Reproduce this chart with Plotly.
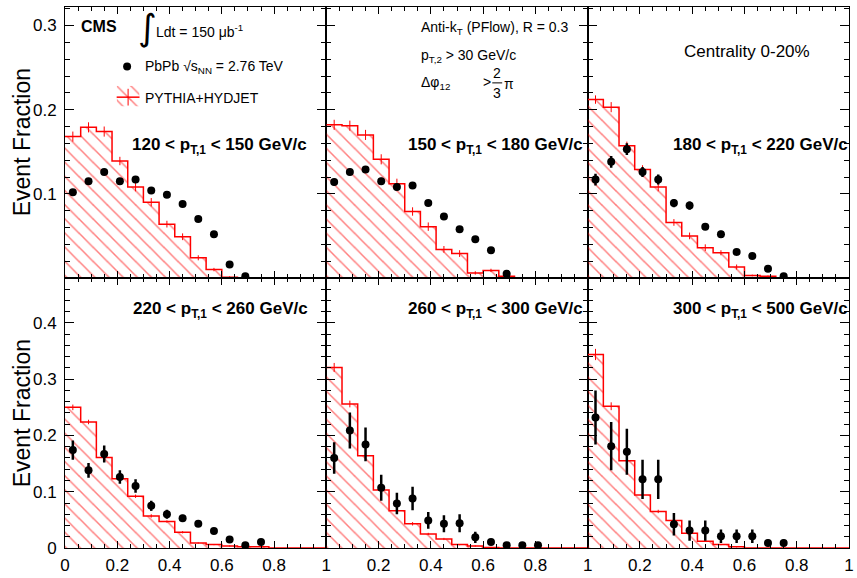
import numpy as np
import plotly.graph_objects as go

# ---------------- data ----------------
BIN_W = 0.06
AJ_EDGES = np.round(np.arange(18) * BIN_W, 4)          # 0 ... 1.02
AJ_CENTERS = np.round((AJ_EDGES[:-1] + AJ_EDGES[1:]) / 2, 4)

PT_LABELS = [
    "120 < p<sub>T,1</sub> < 150 GeV/c",
    "150 < p<sub>T,1</sub> < 180 GeV/c",
    "180 < p<sub>T,1</sub> < 220 GeV/c",
    "220 < p<sub>T,1</sub> < 260 GeV/c",
    "260 < p<sub>T,1</sub> < 300 GeV/c",
    "300 < p<sub>T,1</sub> < 500 GeV/c",
]

# PYTHIA+HYDJET histograms (17 bins)
MC_120_150 = [0.168, 0.179, 0.174, 0.139, 0.108, 0.090, 0.064, 0.049, 0.024, 0.010, 0.001, 0, 0, 0, 0, 0, 0]
MC_150_180 = [0.182, 0.181, 0.170, 0.141, 0.112, 0.079, 0.061, 0.034, 0.029, 0.006, 0.009, 0.002, 0, 0, 0, 0, 0]
MC_180_220 = [0.212, 0.203, 0.157, 0.129, 0.108, 0.066, 0.050, 0.036, 0.030, 0.013, 0.003, 0.002, 0, 0, 0, 0, 0]
MC_220_260 = [0.250, 0.224, 0.161, 0.123, 0.092, 0.057, 0.047, 0.028, 0.009, 0.006, 0.0035, 0.002, 0.002, 0, 0, 0, 0]
MC_260_300 = [0.321, 0.256, 0.164, 0.103, 0.066, 0.043, 0.025, 0.016, 0.006, 0.0035, 0.001, 0, 0, 0, 0, 0, 0]
MC_300_500 = [0.344, 0.252, 0.155, 0.094, 0.065, 0.049, 0.026, 0.012, 0.006, 0.002, 0, 0, 0, 0, 0, 0, 0]

MC_ERR_120_150 = [0.006, 0.006, 0.006, 0.005, 0.005, 0.005, 0.004, 0.004, 0.003, 0.002, 0.001]
MC_ERR_150_180 = [0.006, 0.006, 0.006, 0.006, 0.006, 0.005, 0.005, 0.004, 0.004, 0.002, 0.002, 0.001]
MC_ERR_180_220 = [0.005, 0.006, 0.005, 0.005, 0.005, 0.004, 0.004, 0.004, 0.003, 0.003, 0.001, 0.001]
MC_ERR_220_260 = [0.005, 0.004, 0.004, 0.003, 0.003, 0.003, 0.002, 0.002, 0.001, 0.001, 0.001, 0.001, 0.001]
MC_ERR_260_300 = [0.008, 0.006, 0.005, 0.004, 0.003, 0.003, 0.002, 0.002, 0.001, 0.001, 0.001]
MC_ERR_300_500 = [0.010, 0.007, 0.005, 0.004, 0.003, 0.003, 0.002, 0.001, 0.001, 0.001]

# PbPb data points
DATA_120_150 = [0.102, 0.115, 0.126, 0.115, 0.117, 0.104, 0.099, 0.088, 0.070, 0.052, 0.016, 0.002]
DATA_150_180 = [0.114, 0.126, 0.129, 0.115, 0.108, 0.110, 0.089, 0.073, 0.058, 0.046, 0.033, 0.005]
DATA_180_220 = [0.117, 0.138, 0.153, 0.126, 0.117, 0.089, 0.086, 0.061, 0.052, 0.031, 0.026, 0.011, 0.002]
DATA_220_260 = [0.174, 0.138, 0.167, 0.126, 0.110, 0.075, 0.060, 0.053, 0.043, 0.030, 0.015, 0.005, 0.0105]
DATA_260_300 = [0.160, 0.209, 0.184, 0.107, 0.079, 0.088, 0.049, 0.043, 0.044, 0.019, 0.0105, 0.005, 0.005, 0.005]
DATA_300_500 = [0.232, 0.181, 0.171, 0.122, 0.122, 0.042, 0.031, 0.031, 0.021, 0.021, 0.021, 0.009, 0.009]

ERR_120_150 = [0.003, 0.003, 0.003, 0.003, 0.003, 0.003, 0.003, 0.003, 0.002, 0.002, 0.001, 0.001]
ERR_150_180 = [0.004, 0.004, 0.004, 0.004, 0.004, 0.004, 0.003, 0.003, 0.003, 0.002, 0.002, 0.001]
ERR_180_220 = [0.007, 0.007, 0.007, 0.006, 0.006, 0.005, 0.005, 0.004, 0.004, 0.003, 0.003, 0.002, 0.001]
ERR_220_260 = [0.017, 0.013, 0.015, 0.012, 0.012, 0.009, 0.008, 0.006, 0.005, 0.004, 0.004, 0.002, 0.003]
ERR_260_300 = [0.028, 0.032, 0.030, 0.023, 0.019, 0.021, 0.015, 0.015, 0.016, 0.010, 0.005, 0.003, 0.003, 0.003]
ERR_300_500 = [0.048, 0.043, 0.041, 0.035, 0.035, 0.020, 0.018, 0.018, 0.012, 0.012, 0.012, 0.006, 0.006]

MC = [MC_120_150, MC_150_180, MC_180_220, MC_220_260, MC_260_300, MC_300_500]
MC_ERR = [MC_ERR_120_150, MC_ERR_150_180, MC_ERR_180_220, MC_ERR_220_260, MC_ERR_260_300, MC_ERR_300_500]
DATA = [DATA_120_150, DATA_150_180, DATA_180_220, DATA_220_260, DATA_260_300, DATA_300_500]
ERR = [ERR_120_150, ERR_150_180, ERR_180_220, ERR_220_260, ERR_260_300, ERR_300_500]

X_TICKS = [0, 0.2, 0.4, 0.6, 0.8, 1]
X_TICKTEXT_FIRST = ["0", "0.2", "0.4", "0.6", "0.8", "1"]
X_TICKTEXT_OTHER = ["", "0.2", "0.4", "0.6", "0.8", "1"]
Y_TICKS_TOP = [0.1, 0.2, 0.3]
Y_TICKS_BOT = [0, 0.1, 0.2, 0.3, 0.4]
Y_RANGE_TOP = [0, 0.322]
Y_RANGE_BOT = [0, 0.48]

# ---------------- layout geometry ----------------
W, H = 857, 578
ML, MR, MT, MB = 65, 3, 7, 22
PW = W - ML - MR
PH = H - MT - MB
ROW_SPLIT = 274 / PH

def px(x, y):
    return (x - ML) / PW, (H - MB - y) / PH

FONT = "Liberation Sans, Arial, Helvetica, sans-serif"
HATCH = dict(shape="\\", fgcolor="#ff0000", bgcolor="rgba(0,0,0,0)", size=10, solidity=0.15)

fig = go.Figure()

for i in range(6):
    r, c = divmod(i, 3)
    xa = "x" if i == 0 else f"x{i+1}"
    ya = "y" if i == 0 else f"y{i+1}"
    mc = MC[i]
    fig.add_trace(go.Scatter(
        x=list(AJ_EDGES), y=mc + [mc[-1]], mode="lines", line_shape="hv",
        line=dict(color="#ff0000", width=1.5), fill="tozeroy",
        fillcolor="rgba(0,0,0,0)", fillpattern=HATCH,
        xaxis=xa, yaxis=ya, showlegend=False, hoverinfo="skip"))
    ne = len(MC_ERR[i])
    fig.add_trace(go.Scatter(
        x=list(AJ_CENTERS[:ne]), y=mc[:ne], mode="markers",
        marker=dict(size=1, color="rgba(0,0,0,0)"),
        error_y=dict(type="data", array=MC_ERR[i], color="#ff0000", thickness=1, width=0),
        xaxis=xa, yaxis=ya, showlegend=False, hoverinfo="skip"))
    nd = len(DATA[i])
    fig.add_trace(go.Scatter(
        x=list(AJ_CENTERS[:nd]), y=DATA[i], mode="markers",
        marker=dict(size=8, color="black"),
        error_y=dict(type="data", array=ERR[i], color="black", thickness=2.5, width=0),
        xaxis=xa, yaxis=ya, showlegend=False))

    xkey = "xaxis" if i == 0 else f"xaxis{i+1}"
    ykey = "yaxis" if i == 0 else f"yaxis{i+1}"
    common = dict(showline=True, linecolor="black", linewidth=1, mirror="allticks",
                  ticks="inside", tickcolor="black", tickwidth=1, showgrid=False,
                  zeroline=False, tickfont=dict(family=FONT, size=17, color="black"))
    fig.layout[xkey] = dict(
        common, domain=[c / 3, (c + 1) / 3], range=[0, 1], anchor=ya,
        tickmode="array", tickvals=X_TICKS,
        ticktext=X_TICKTEXT_FIRST if c == 0 else X_TICKTEXT_OTHER,
        showticklabels=(r == 1), ticklen=7, ticklabelstandoff=2,
        minor=dict(tickmode="linear", tick0=0, dtick=0.05, ticks="inside",
                   ticklen=4, tickcolor="black", tickwidth=1))
    fig.layout[ykey] = dict(
        common, domain=[ROW_SPLIT, 1] if r == 0 else [0, ROW_SPLIT],
        range=Y_RANGE_TOP if r == 0 else Y_RANGE_BOT, anchor=xa,
        tickmode="array", tickvals=Y_TICKS_TOP if r == 0 else Y_TICKS_BOT,
        ticktext=[("%g" % v) for v in (Y_TICKS_TOP if r == 0 else Y_TICKS_BOT)],
        showticklabels=(c == 0), ticklen=9, ticklabelstandoff=4,
        minor=dict(tickmode="linear", tick0=0, dtick=0.02, ticks="inside",
                   ticklen=5, tickcolor="black", tickwidth=1))

# legend swatch axis (hatched key box)
sx0, sy0 = px(117, 108)
sx1, sy1 = px(140, 87)
fig.layout["xaxis7"] = dict(domain=[sx0, sx1], range=[0, 1], visible=False, anchor="y7")
fig.layout["yaxis7"] = dict(domain=[sy0, sy1], range=[0, 1], visible=False, anchor="x7")
fig.add_trace(go.Scatter(x=[0, 1, 1, 0, 0], y=[0, 0, 1, 1, 0], mode="lines", fill="toself",
                         fillcolor="rgba(0,0,0,0)", fillpattern=HATCH, line=dict(width=0),
                         xaxis="x7", yaxis="y7", showlegend=False, hoverinfo="skip"))

annotations = []

def ann(text, x, y, size, xanchor="left", bold=False, angle=0, family=FONT):
    ax, ay = px(x, y)
    annotations.append(dict(text=f"<b>{text}</b>" if bold else text, x=ax, y=ay,
                            xref="paper", yref="paper", xanchor=xanchor, yanchor="middle",
                            showarrow=False, textangle=angle,
                            font=dict(family=family, size=size, color="black")))

ann("CMS", 79, 27, 16, bold=True)
ann("∫", 148, 28, 36, xanchor="center", family="DejaVu Sans, sans-serif")
ann("Ldt = 150 μb<sup>-1</sup>", 155, 31, 14)
ann("PbPb √s<sub>NN</sub> = 2.76 TeV", 144, 68, 14)
ann("PYTHIA+HYDJET", 144, 99, 14)
ann("Anti-k<sub>T</sub> (PFlow), R = 0.3", 421, 28, 14)
ann("p<sub>T,2</sub> > 30 GeV/c", 421, 57, 14)
ann("Δφ<sub>12</sub>", 421, 84, 14)
ann(">", 490, 83, 14, xanchor="center")
ann("2", 500, 74, 14, xanchor="center")
ann("3", 500, 94, 14, xanchor="center")
ann("π", 505, 85, 14)
ann("Centrality 0-20%", 686, 52, 17)
label_pos = [(130, 148), (408, 148), (675, 148), (131, 314), (408, 314), (675, 314)]
for lab, (lx, ly) in zip(PT_LABELS, label_pos):
    ann(lab, lx, ly, 17, bold=True)
ann("Event Fraction", 22, 144, 23, xanchor="center", angle=-90)
ann("Event Fraction", 22, 419, 23, xanchor="center", angle=-90)

shapes = []
def pline(x0, y0, x1, y1, color, width):
    a0, b0 = px(x0, y0)
    a1, b1 = px(x1, y1)
    shapes.append(dict(type="line", xref="paper", yref="paper", x0=a0, y0=b0, x1=a1, y1=b1,
                       line=dict(color=color, width=width)))

pline(117, 98.5, 140, 98.5, "#ff0000", 1.5)
pline(128.5, 90, 128.5, 107, "#ff0000", 1)
pline(495, 84, 505, 84, "black", 1)
cx, cy = px(127.5, 67.5)
shapes.append(dict(type="circle", xref="paper", yref="paper", xsizemode="pixel", ysizemode="pixel",
                   xanchor=cx, yanchor=cy, x0=-4, x1=4, y0=-4, y1=4,
                   fillcolor="black", line=dict(color="black", width=0)))

fig.update_layout(
    width=W, height=H, margin=dict(l=ML, r=MR, t=MT, b=MB, pad=0),
    paper_bgcolor="white", plot_bgcolor="white", showlegend=False,
    annotations=annotations, shapes=shapes,
    font=dict(family=FONT, color="black"))

fig.write_html("out.html")
